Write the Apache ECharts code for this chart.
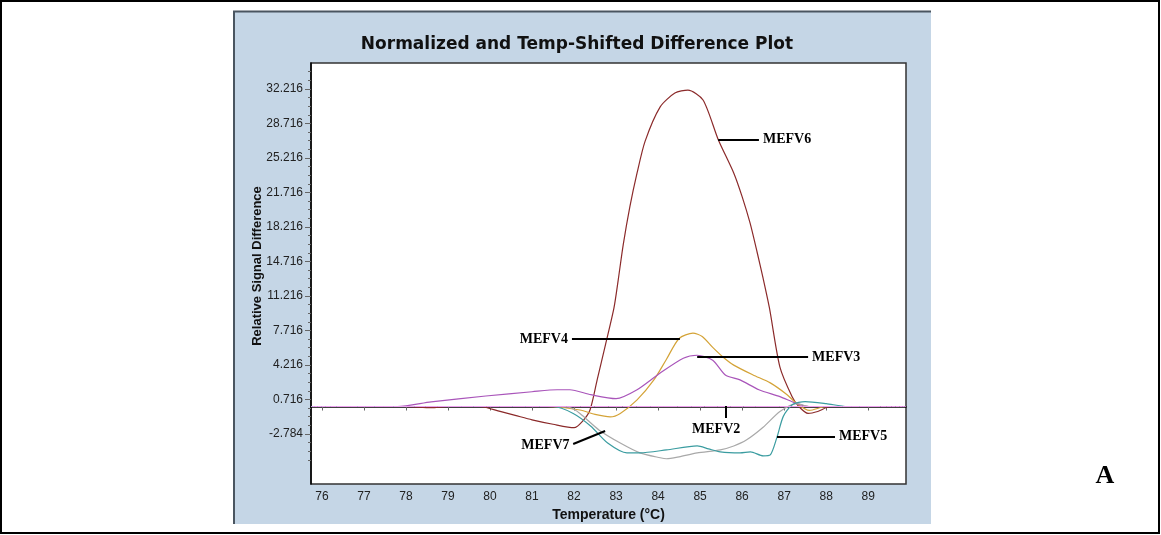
<!DOCTYPE html>
<html>
<head>
<meta charset="utf-8">
<script src="https://cdn.jsdelivr.net/npm/echarts@6/dist/echarts.min.js"></script>
<style>
  html, body { margin: 0; padding: 0; background: #fff; }
  #chart { width: 1161px; height: 535px; }
</style>
</head>
<body>
<div id="chart"></div>
<script>
// Temperature axis (°C) and relative-signal tick values
const tempTicks = [76, 77, 78, 79, 80, 81, 82, 83, 84, 85, 86, 87, 88, 89];
const signalTicks = [-2.784, 0.716, 4.216, 7.716, 11.216, 14.716, 18.216, 21.716, 25.216, 28.716, 32.216];
const signalMinorTicks = [-5.409, -4.534, -3.659, -1.909, -1.034, -0.159, 1.591, 2.466, 3.341,
  5.091, 5.966, 6.841, 8.591, 9.466, 10.341, 12.091, 12.966, 13.841, 15.591, 16.466, 17.341,
  19.091, 19.966, 20.841, 22.591, 23.466, 24.341, 26.091, 26.966, 27.841, 29.591, 30.466, 31.341,
  33.091, 33.966];

// Difference curves: [temperature, relative signal difference]
const mefv6 = [[75.74,0],[77,0],[78,0],[78.6,-0.12],[79,0],[79.76,0],[80.24,-0.5],[80.6,-0.9],[81.0,-1.35],
  [81.5,-1.8],[82.0,-2.15],[82.2,-1.5],[82.38,-0.35],[82.55,2.7],[82.75,6.3],[82.95,10.0],[83.05,12.8],
  [83.17,16.4],[83.33,20.3],[83.5,23.7],[83.69,26.9],[84.05,30.4],[84.4,31.8],[84.71,32.1],[85.07,31.1],
  [85.43,27.1],[85.8,23.7],[86.0,21.3],[86.19,18.6],[86.36,15.6],[86.5,13.0],[86.65,10.0],[86.9,4.0],
  [87.19,1.0],[87.35,0],[87.57,-0.7],[87.8,-0.5],[88.1,0],[88.5,0],[89.2,0]];
const mefv4 = [[75.74,0],[78,0],[80,0],[81.36,0],[82.14,-0.35],[82.5,-0.8],[82.86,-1.05],[83.1,-0.7],
  [83.5,0.67],[83.9,2.7],[84.2,4.8],[84.5,6.9],[84.83,7.45],[85.05,7.1],[85.3,6.0],[85.55,5.0],[85.8,4.2],
  [86.26,3.2],[86.67,2.4],[87.07,1.2],[87.3,0.3],[87.6,-0.4],[88.0,0],[89.2,0]];
const mefv3 = [[75.74,0],[77.8,0],[78.6,0.47],[79.9,1.07],[81.0,1.5],[81.6,1.7],[81.9,1.7],[82.4,1.2],
  [83.0,0.8],[83.5,1.7],[84.05,3.4],[84.6,4.9],[84.93,5.2],[85.3,4.7],[85.6,3.2],[85.95,2.7],[86.4,1.7],
  [86.9,1.0],[87.3,0.3],[87.6,0],[89.2,0]];
const mefv7 = [[75.74,0],[81.5,0],[81.9,-0.1],[82.14,-0.7],[82.6,-2.4],[83.1,-3.7],[83.57,-4.7],
  [84.05,-5.2],[84.2,-5.3],[84.5,-5.1],[84.93,-4.7],[85.48,-4.4],[85.8,-4.0],[86.1,-3.4],[86.5,-2.1],
  [86.9,-0.5],[87.3,0.3],[87.6,0],[89.2,0]];
const mefv5 = [[75.74,0],[81.5,0],[81.98,-0.7],[82.4,-2.0],[82.8,-3.7],[83.26,-4.7],[83.57,-4.7],
  [84.2,-4.4],[84.93,-4.0],[85.2,-4.3],[85.48,-4.6],[85.95,-4.7],[86.2,-4.6],[86.5,-5.0],[86.67,-4.9],
  [86.83,-3.1],[86.98,-1.0],[87.2,0.2],[87.5,0.5],[88.0,0.3],[88.5,0],[89.2,0]];
const mefv2 = [[75.74,0],[89.9,0]];

// Leader lines naming each curve: [from point on/near curve, to point beside label]
const leaders = [
  { name: 'MEFV6', from: [85.43, 27.1], to: [86.4, 27.1] },
  { name: 'MEFV4', from: [84.52, 6.86], to: [81.95, 6.86] },
  { name: 'MEFV3', from: [84.93, 5.03], to: [87.57, 5.03] },
  { name: 'MEFV2', from: [85.62, 0.06], to: [85.62, -1.16] },
  { name: 'MEFV5', from: [86.83, -3.08], to: [88.21, -3.08] },
  { name: 'MEFV7', from: [82.74, -2.48], to: [81.98, -3.8] }
];

const seriesDefs = [
  { name: 'MEFV6', data: mefv6, color: '#8B2A2A', width: 1.2 },
  { name: 'MEFV4', data: mefv4, color: '#D4A337', width: 1.2 },
  { name: 'MEFV3', data: mefv3, color: '#A955BA', width: 1.2 },
  { name: 'MEFV7', data: mefv7, color: '#A9A9A9', width: 1.2 },
  { name: 'MEFV5', data: mefv5, color: '#3A9CA0', width: 1.2 },
  { name: 'MEFV2', data: mefv2, color: '#F0A0F0', width: 1 }
];

const labelFont = { color: '#000', fontFamily: 'Liberation Serif', fontWeight: 'bold', fontSize: 14 };

const series = seriesDefs.map(function (s) {
  const lead = leaders.find(function (l) { return l.name === s.name; });
  return {
    name: s.name,
    type: 'line',
    data: s.data,
    smooth: 0.25,
    symbol: 'none',
    lineStyle: { color: s.color, width: s.width },
    markLine: {
      silent: true,
      symbol: ['none', 'none'],
      lineStyle: { color: '#000', width: 2, type: 'solid' },
      label: Object.assign({
        show: true,
        position: 'end',
        distance: 4,
        formatter: s.name,
        offset: s.name === 'MEFV2' ? [-10, 0] : [0, 0]
      }, labelFont),
      data: [[{ coord: lead.from }, { coord: lead.to }]]
    }
  };
});

const chart = echarts.init(document.getElementById('chart'), null, { renderer: 'canvas' });
chart.setOption({
  animation: false,
  backgroundColor: '#fff',
  graphic: [
    { type: 'rect', z: -10, shape: { x: 233, y: 11, width: 698, height: 513 },
      style: { fill: '#C5D6E6' } },
    { type: 'polyline', z: -9, shape: { points: [[234, 524], [234, 11.5], [931, 11.5]] },
      style: { stroke: '#4A5560', lineWidth: 2, fill: null } },
    { type: 'rect', z: 100, shape: { x: 1, y: 1, width: 1158, height: 532 },
      style: { fill: null, stroke: '#000', lineWidth: 2 } },
    { type: 'text', x: 577, y: 45, style: { text: 'Normalized and Temp-Shifted Difference Plot',
      fill: '#111', font: 'bold 17px "DejaVu Sans", Verdana, sans-serif', textAlign: 'center', textVerticalAlign: 'middle' } },
    { type: 'text', x: 257, y: 266, rotation: Math.PI / 2, style: { text: 'Relative Signal Difference',
      fill: '#111', font: 'bold 13px "Liberation Sans", Arial, sans-serif', textAlign: 'center', textVerticalAlign: 'middle' } },
    { type: 'text', x: 1105, y: 476, style: { text: 'A', fill: '#000',
      font: 'bold 26px "Liberation Serif", serif', textAlign: 'center', textVerticalAlign: 'middle' } }
  ],
  grid: {
    left: 311, top: 63, width: 595, height: 421,
    show: true, backgroundColor: '#fff', borderColor: '#333', borderWidth: 1.5
  },
  xAxis: {
    type: 'value', min: 75.74, max: 89.9,
    name: 'Temperature (°C)', nameLocation: 'middle', nameGap: 21,
    nameTextStyle: { color: '#111', fontFamily: 'Liberation Sans', fontWeight: 'bold', fontSize: 14 },
    axisLine: { show: true, lineStyle: { color: '#000', width: 1.5 } },
    axisTick: { show: true, length: 4, customValues: tempTicks, lineStyle: { color: '#666' } },
    axisLabel: { customValues: tempTicks, margin: 7, color: '#222', fontFamily: 'Liberation Sans', fontSize: 12 },
    splitLine: { show: false }
  },
  yAxis: [
    {
      type: 'value', min: -7.86, max: 34.85,
      axisLine: { show: true, lineStyle: { color: '#000', width: 1.5 } },
      axisTick: { show: true, length: 6, customValues: signalTicks, lineStyle: { color: '#666' } },
      axisLabel: { customValues: signalTicks, margin: 8, color: '#222', fontFamily: 'Liberation Sans', fontSize: 12,
        formatter: function (v) { return v.toFixed(3); } },
      splitLine: { show: false }
    },
    {
      type: 'value', min: -7.86, max: 34.85, position: 'left',
      axisLine: { show: false },
      axisTick: { show: true, length: 3, customValues: signalMinorTicks, lineStyle: { color: '#666' } },
      axisLabel: { show: false },
      splitLine: { show: false }
    }
  ],
  series: series
});
</script>
</body>
</html>
